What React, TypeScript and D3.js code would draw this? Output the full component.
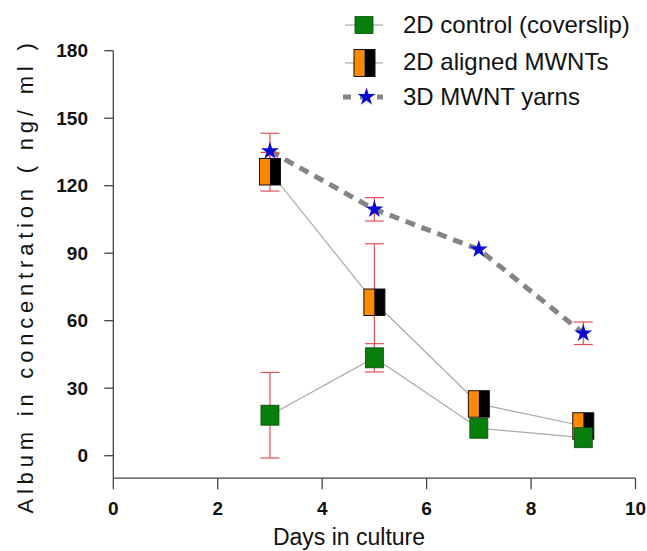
import React from "react";
import * as d3 from "d3";

// values
const days = [3, 5, 7, 9];
const controlMean = [18, 43.5, 12.2, 8];
const controlErr = [19, 6.3, 0, 0];
const alignedMean = [126.2, 68.2, 23, 13.2];
const alignedErr = [8.6, 26, 0, 0];
const yarnMean = [135.4, 109.5, 91.7, 54.4];
const yarnErr = [7.9, 5.2, 0, 5];
const xTicks = [0, 2, 4, 6, 8, 10];
const yTicks = [0, 30, 60, 90, 120, 150, 180];
const legendLabels = ["2D control (coverslip)", "2D aligned MWNTs", "3D MWNT yarns"];

const width = 647;
const height = 551;
const font = "'Liberation Sans', Arial, sans-serif";

export default function App() {
  const x = d3.scaleLinear().domain([0, 10]).range([113.3, 635.5]);
  const y = d3.scaleLinear().domain([-10, 180]).range([478.2, 50.7]);

  const line = d3.line<number>().x((d, i) => x(days[i])).y(d => y(d));
  const star = d3.symbol(d3.symbolStar, 100)() as string;

  const errColor = "#e4505a";
  const capW = 19;

  // error bars for one series
  const errBars = (means: number[], errs: number[], key: string) =>
    means.map((m, i) => {
      if (!errs[i]) return null;
      const cx = x(days[i]);
      const y1 = y(m + errs[i]);
      const y2 = y(m - errs[i]);
      return (
        <g key={key + i} stroke={errColor} strokeWidth={1.2}>
          <line x1={cx} x2={cx} y1={y1} y2={y2} />
          <line x1={cx - capW / 2} x2={cx + capW / 2} y1={y1} y2={y1} />
          <line x1={cx - capW / 2} x2={cx + capW / 2} y1={y2} y2={y2} />
        </g>
      );
    });

  const greenBox = (cx: number, cy: number, w: number, h: number, k: string) => (
    <rect key={k} x={cx - w / 2} y={cy - h / 2} width={w} height={h} fill="#087f0d" stroke="#0b4a0b" strokeWidth={0.8} />
  );

  const splitBox = (cx: number, cy: number, w: number, h: number, k: string) => (
    <g key={k}>
      <rect x={cx - w / 2} y={cy - h / 2} width={w / 2} height={h} fill="#ff8a00" />
      <rect x={cx} y={cy - h / 2} width={w / 2} height={h} fill="#000" />
      <rect x={cx - w / 2} y={cy - h / 2} width={w} height={h} fill="none" stroke="#111" strokeWidth={1} />
    </g>
  );

  return (
    <svg width={width} height={height} style={{ position: "absolute", left: 0, top: 0, background: "#fff" }} fontFamily={font}>
      {/* axes */}
      <g stroke="#444" strokeWidth={1.3}>
        <line x1={x(0)} x2={x(0)} y1={y(180)} y2={y(-10)} />
        <line x1={x(0)} x2={x(10)} y1={y(-10)} y2={y(-10)} />
        {xTicks.map(t => (
          <line key={"xt" + t} x1={x(t)} x2={x(t)} y1={y(-10)} y2={y(-10) + 11} />
        ))}
        {yTicks.map(t => (
          <line key={"yt" + t} x1={x(0) - 9} x2={x(0)} y1={y(t)} y2={y(t)} />
        ))}
      </g>
      {xTicks.map(t => (
        <text key={"xl" + t} x={x(t)} y={508} dy="0.35em" textAnchor="middle" fontSize={19} fontWeight="bold" fill="#111">
          {t}
        </text>
      ))}
      {yTicks.map(t => (
        <text key={"yl" + t} x={88} y={y(t)} dy="0.35em" textAnchor="end" fontSize={19} fontWeight="bold" fill="#111">
          {t}
        </text>
      ))}
      <text x={349} y={545} textAnchor="middle" fontSize={23} fill="#111">
        Days in culture
      </text>
      <text transform="translate(33,276) rotate(-90)" textAnchor="middle" fontSize={22} letterSpacing={4.8} fill="#111">
        Album in concentration ( ng/ ml )
      </text>

      {/* connecting lines */}
      <path d={line(alignedMean) ?? ""} fill="none" stroke="#a8a8a8" strokeWidth={1.2} />
      <path d={line(controlMean) ?? ""} fill="none" stroke="#a8a8a8" strokeWidth={1.2} />
      <path d={line(yarnMean) ?? ""} fill="none" stroke="#858585" strokeWidth={5} strokeDasharray="10,7" />

      {/* error bars */}
      {errBars(alignedMean, alignedErr, "ea")}
      {errBars(controlMean, controlErr, "ec")}
      {errBars(yarnMean, yarnErr, "ey")}

      {/* markers */}
      {alignedMean.map((m, i) => splitBox(x(days[i]), y(m), 21, 26.5, "a" + i))}
      {controlMean.map((m, i) => greenBox(x(days[i]), y(m), 18, 20, "c" + i))}
      {yarnMean.map((m, i) => (
        <path key={"s" + i} d={star} transform={`translate(${x(days[i])},${y(m)})`} fill="#0a0ad0" />
      ))}

      {/* legend */}
      <g>
        <line x1={345} x2={383} y1={25} y2={25} stroke="#999" strokeWidth={1.2} />
        {greenBox(364, 25, 18, 17, "lg")}
        <line x1={345} x2={383} y1={63} y2={63} stroke="#999" strokeWidth={1.2} />
        {splitBox(364.5, 63, 21, 27, "lo")}
        <line x1={343} x2={383} y1={97} y2={97} stroke="#858585" strokeWidth={5} strokeDasharray="8,9" />
        <path d={star} transform="translate(366.5,97)" fill="#0a0ad0" />
        {legendLabels.map((l, i) => (
          <text key={l} x={403} y={[25, 61.7, 96.7][i]} dy="0.35em" fontSize={24} fill="#111">
            {l}
          </text>
        ))}
      </g>
    </svg>
  );
}
